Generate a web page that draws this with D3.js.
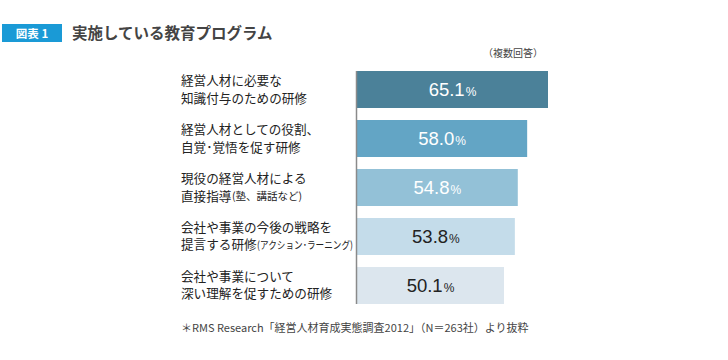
<!DOCTYPE html>
<html><head><meta charset="utf-8">
<script src="https://cdn.jsdelivr.net/npm/d3@7"></script>
<style>
body{margin:0;background:#fff;}
text{font-family:"Noto Sans CJK JP","Noto Sans",sans-serif;}
</style></head>
<body><svg id="c" width="728" height="360"></svg>
<script>
const labelLine1 = ["経営人材に必要な","経営人材としての役割、","現役の経営人材による","会社や事業の今後の戦略を","会社や事業について"];
const labelLine2 = ["知識付与のための研修","自覚･覚悟を促す研修","直接指導","提言する研修","深い理解を促すための研修"];
const labelSuffix = ["","","(塾、講話など)","(アクション･ラーニング)",""];
const values = [65.1,58.0,54.8,53.8,50.1];
const barColors = ["#4b8199","#63a5c5","#93c1d7","#c4dcea","#dce6ee"];
const textColors = ["#fff","#fff","#fff","#222","#222"];
const ids = d3.range(values.length);

const svg = d3.select("#c");
const x = d3.scaleLinear().domain([0,65.1]).range([357,548]);
const y = d3.scaleBand().domain(ids).range([59,316]).paddingInner(0.245).paddingOuter(0.245);

// title
svg.append("rect").attr("x",2).attr("y",24).attr("width",60).attr("height",18).attr("fill","#1a9ad6");
svg.append("text").attr("x",32).attr("y",37.5).attr("text-anchor","middle").attr("fill","#fff")
  .attr("font-size",11.5).attr("font-weight","bold").text("図表 1");
svg.append("text").attr("x",72).attr("y",39).attr("fill","#444").attr("font-size",15.5).attr("font-weight","bold")
  .text("実施している教育プログラム");
svg.append("text").attr("x",543).attr("y",57).attr("text-anchor","end").attr("fill","#444").attr("font-size",10)
  .text("（複数回答）");

// bars
svg.selectAll("rect.bar").data(ids).join("rect").attr("class","bar")
  .attr("x",x(0)).attr("y",i=>y(i)).attr("width",i=>x(values[i])-x(0)).attr("height",y.bandwidth())
  .attr("fill",i=>barColors[i]);

// axis line
svg.append("line").attr("x1",x(0)-0.5).attr("x2",x(0)-0.5).attr("y1",y(0)).attr("y2",y(4)+y.bandwidth())
  .attr("stroke","#8a8a8a").attr("stroke-width",1.5);

// value labels
const vl = svg.selectAll("text.val").data(ids).join("text").attr("class","val")
  .attr("x",i=>(x(0)+x(values[i]))/2).attr("y",i=>y(i)+y.bandwidth()/2+6.5)
  .attr("text-anchor","middle").attr("fill",i=>textColors[i])
  .style("font-family","'Liberation Sans',Arial,sans-serif");
vl.append("tspan").attr("font-size",18.5).text(i=>values[i].toFixed(1));
vl.append("tspan").attr("font-size",12).attr("dx",1).text("%");

// category labels
const cl = svg.selectAll("g.lab").data(ids).join("g").attr("class","lab");
cl.append("text").attr("x",181).attr("y",i=>y(i)+y.bandwidth()/2-4.5).attr("fill","#222").attr("font-size",12.6)
  .text(i=>labelLine1[i]);
const l2 = cl.append("text").attr("x",181).attr("y",i=>y(i)+y.bandwidth()/2+13).attr("fill","#222").attr("font-size",12.6)
  .text(i=>labelLine2[i]);
cl.filter(i=>labelSuffix[i]).append("text")
  .attr("x",function(i){ return 181 + this.parentNode.childNodes[1].getComputedTextLength() + 0.5; })
  .attr("y",i=>y(i)+y.bandwidth()/2+12.5)
  .attr("fill","#222").attr("font-size",10.5)
  .text(i=>labelSuffix[i])
  .each(function(){
    const sx = +this.getAttribute("x");
    const avail = x(0) - 4 - sx;
    if (this.getComputedTextLength() > avail) {
      d3.select(this).attr("textLength", avail).attr("lengthAdjust","spacingAndGlyphs");
    }
  });

// footnote
svg.append("text").attr("x",181).attr("y",332).attr("fill","#444").attr("font-size",11)
  .text("＊RMS Research「経営人材育成実態調査2012」（N＝263社）より抜粋");
</script></body></html>
